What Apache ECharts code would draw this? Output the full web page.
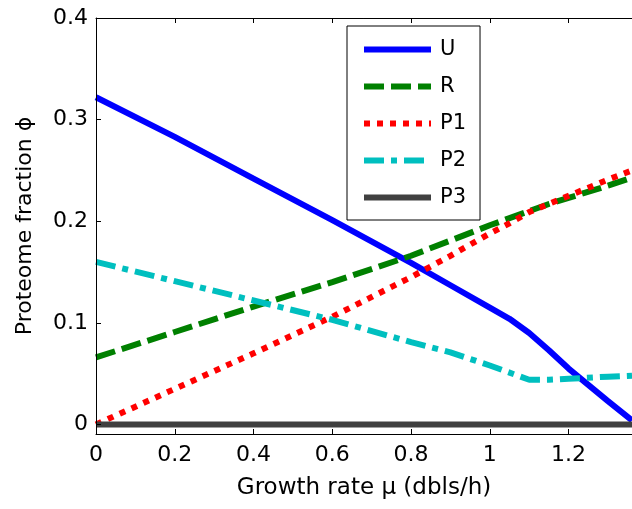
<!DOCTYPE html>
<html>
<head>
<meta charset="utf-8">
<script src="https://cdn.jsdelivr.net/npm/echarts@6/dist/echarts.min.js"></script>
<style>
  html, body { margin: 0; padding: 0; background: #fff; }
  #main { width: 632px; height: 509px; }
</style>
</head>
<body>
<div id="main"></div>
<script>
var myChart = echarts.init(document.getElementById('main'));

// growth rate (dbls/h)
var mu = [0, 0.2, 0.4, 0.6, 0.8, 0.9, 1.0, 1.05, 1.1, 1.15, 1.2, 1.3, 1.361];

// proteome fractions
var phiU  = [0.322, 0.283, 0.242, 0.201, 0.159, 0.137, 0.115, 0.104, 0.090, 0.073, 0.055, 0.023, 0.004];
var phiR  = [0.066, 0.091, 0.116, 0.140, 0.166, 0.181, 0.196, 0.203, 0.210, 0.217, 0.223, 0.235, 0.243];
var phiP1 = [0.000, 0.035, 0.070, 0.106, 0.145, 0.166, 0.188, 0.198, 0.209, 0.217, 0.225, 0.241, 0.250];
var phiP2 = [0.160, 0.141, 0.122, 0.103, 0.081, 0.071, 0.058, 0.051, 0.044, 0.044, 0.045, 0.047, 0.048];
var phiP3 = [0, 0, 0, 0, 0, 0, 0, 0, 0, 0, 0, 0, 0];

var xTicks = [0, 0.2, 0.4, 0.6, 0.8, 1, 1.2];
var yTicks = [0, 0.1, 0.2, 0.3, 0.4];

var names = ['U', 'R', 'P1', 'P2', 'P3'];

function pairs(ys) {
  return mu.map(function (x, i) { return [x, ys[i]]; });
}

var font = 'DejaVu Sans, sans-serif';

function line(name, ys, color, type) {
  return {
    name: name,
    type: 'line',
    data: pairs(ys),
    showSymbol: false,
    symbol: 'none',
    lineStyle: { color: color, width: 6, type: type, cap: 'butt' },
    itemStyle: { color: color }
  };
}

function ticks(values) {
  return { show: true, inside: true, length: 5, customValues: values, lineStyle: { color: '#000', width: 1 } };
}

var option = {
  animation: false,
  textStyle: { fontFamily: font },
  grid: { left: 96, right: 0, top: 18, bottom: 75 },
  legend: {
    data: names,
    orient: 'vertical',
    left: 347,
    top: 26,
    padding: [13, 14, 12, 14],
    itemGap: 16,
    itemWidth: 67,
    itemHeight: 14,
    backgroundColor: '#fff',
    borderColor: '#000',
    borderWidth: 1,
    borderRadius: 0,
    itemStyle: { opacity: 0 },
    lineStyle: { width: 6, cap: 'butt' },
    textStyle: { fontSize: 21, color: '#000', fontFamily: font, lineHeight: 20, padding: [0, 0, 0, 4] }
  },
  xAxis: [
    {
      type: 'value',
      z: 5,
      min: 0,
      max: 1.361,
      name: 'Growth rate μ (dbls/h)',
      nameLocation: 'middle',
      nameGap: 43,
      nameTextStyle: { fontSize: 23, color: '#000', fontFamily: font },
      axisLine: { onZero: false, lineStyle: { color: '#000', width: 1 } },
      axisTick: ticks(xTicks),
      axisLabel: { customValues: xTicks, fontSize: 22, color: '#000', margin: 10, fontFamily: font },
      splitLine: { show: false }
    },
    {
      type: 'value',
      z: 5,
      position: 'top',
      min: 0,
      max: 1.361,
      axisLine: { onZero: false, lineStyle: { color: '#000', width: 1 } },
      axisTick: ticks(xTicks),
      axisLabel: { show: false },
      splitLine: { show: false }
    }
  ],
  yAxis: {
    type: 'value',
    z: 5,
    min: -0.0094,
    max: 0.4,
    name: 'Proteome fraction ϕ',
    nameLocation: 'middle',
    nameGap: 60,
    nameTextStyle: { fontSize: 22, color: '#000', fontFamily: font },
    axisLine: { show: true, onZero: false, lineStyle: { color: '#000', width: 1 } },
    axisTick: ticks(yTicks),
    axisLabel: { customValues: yTicks, fontSize: 22, color: '#000', margin: 8, fontFamily: font },
    splitLine: { show: false }
  },
  series: [
    line('U', phiU, '#0000ff', 'solid'),
    line('R', phiR, '#008000', [20, 7]),
    line('P1', phiP1, '#ff0000', [6, 7]),
    line('P2', phiP2, '#00bfbf', [20, 7, 6, 7]),
    line('P3', phiP3, '#404040', 'solid')
  ]
};

option && myChart.setOption(option);
</script>
</body>
</html>
